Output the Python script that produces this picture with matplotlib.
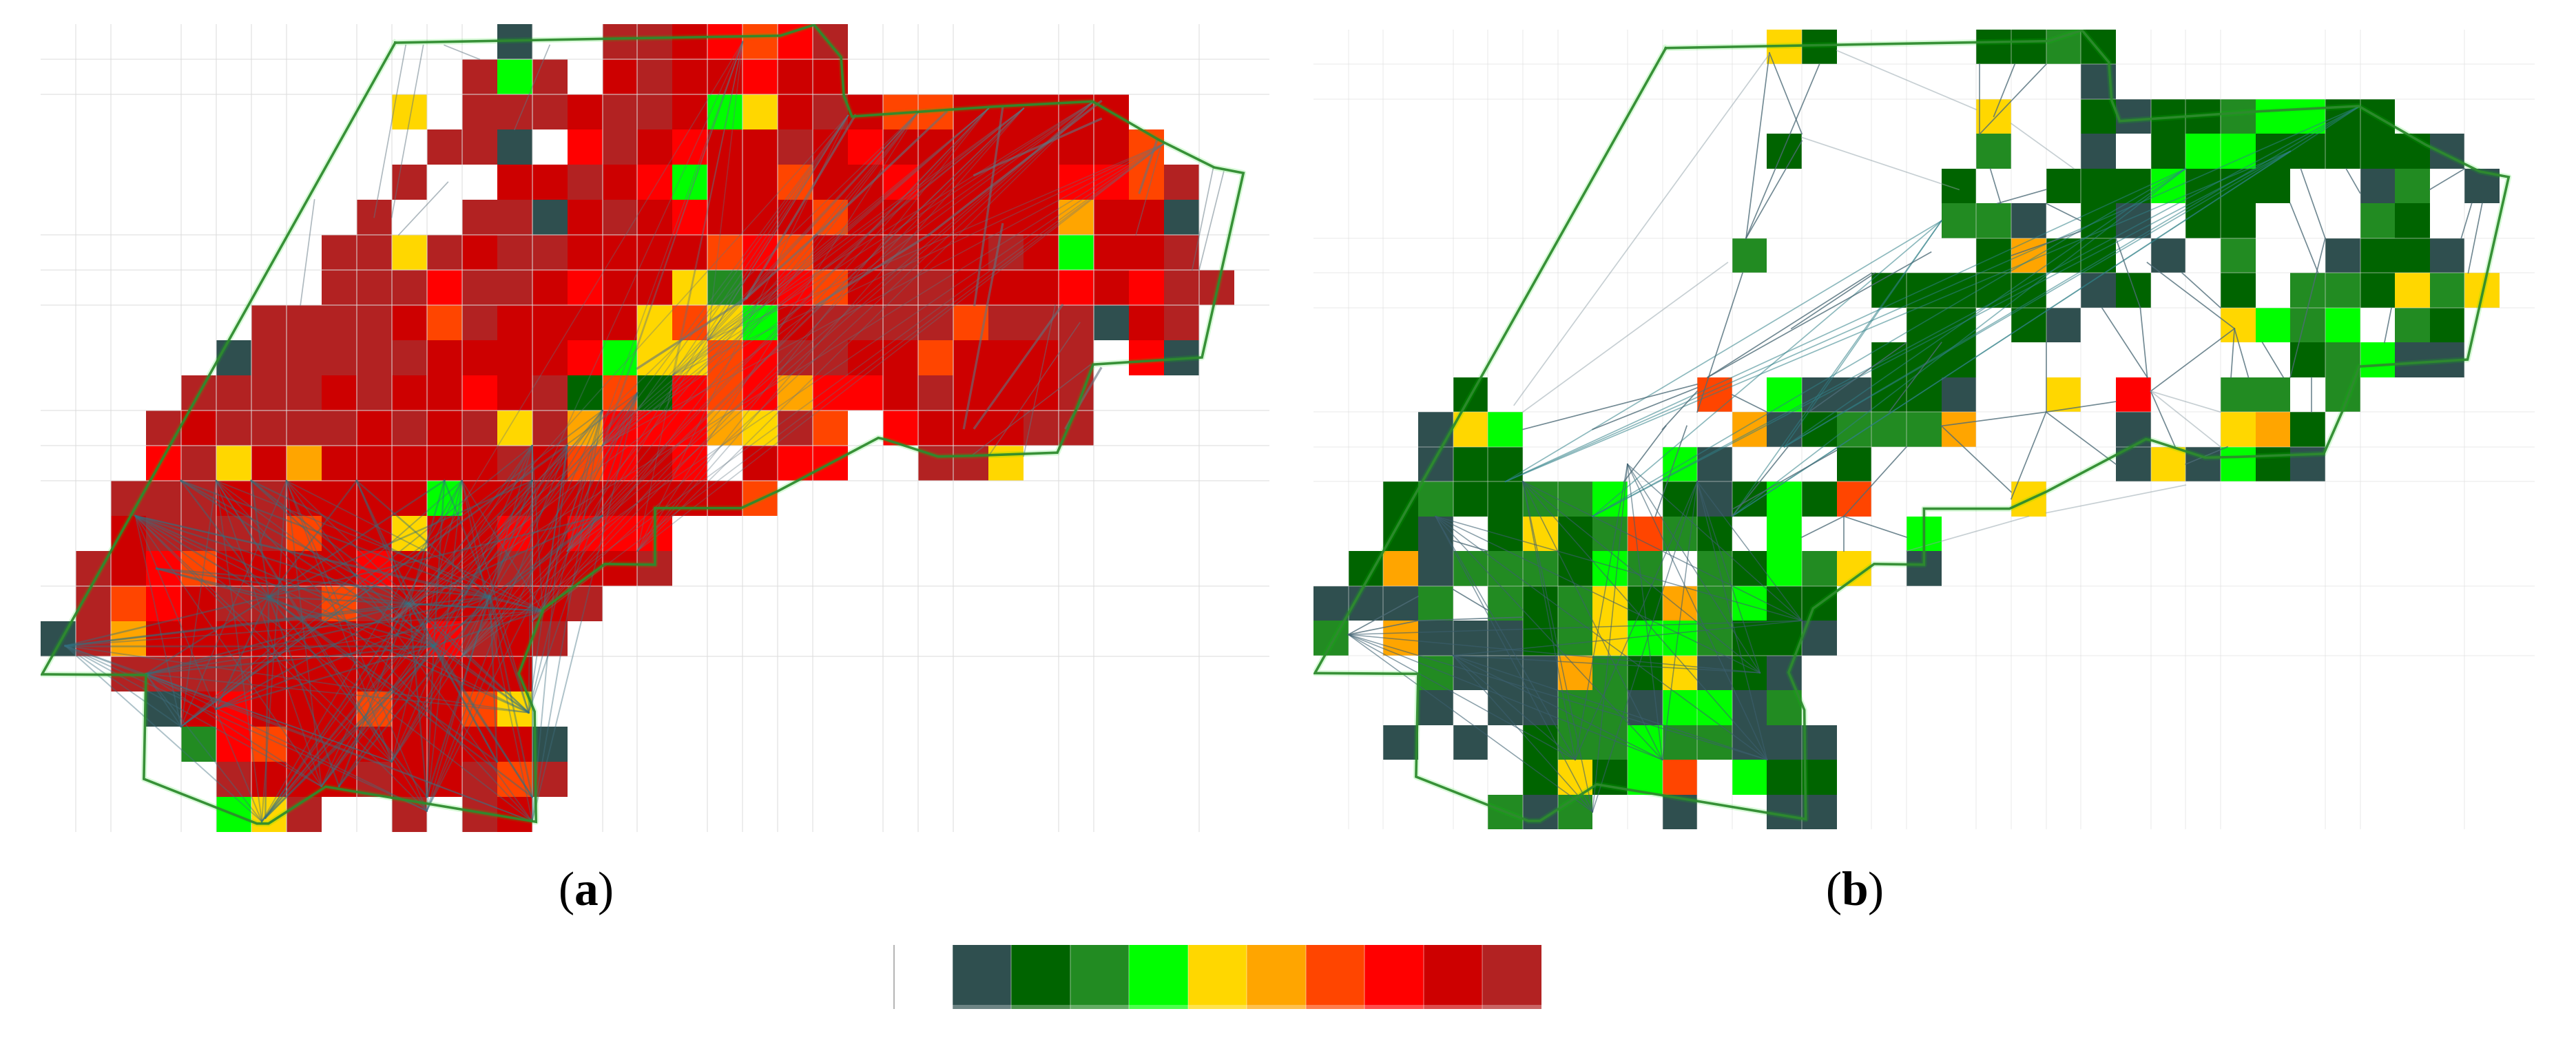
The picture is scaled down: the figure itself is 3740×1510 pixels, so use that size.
## Grid maps (a) and (b) with the site polygon and link network
import itertools
import numpy as np
import matplotlib
matplotlib.use('Agg')
import matplotlib.pyplot as plt
from matplotlib.colors import ListedColormap

plt.rcParams['mathtext.fontset'] = 'custom'
plt.rcParams['mathtext.bf'] = 'Liberation Serif:bold'
plt.rcParams['mathtext.rm'] = 'Liberation Serif'

## Colour classes, 0 is empty
class_colors = ['#FFFFFF', '#2F4F4F', '#006400', '#228B22', '#00FF00', '#FFD700',
                '#FFA500', '#FF4500', '#FF0000', '#CD0000', '#B22222']
legend_classes = [0, 1, 2, 3, 4, 5, 6, 7, 8, 9, 10]

## Cell classes per row, hex digit per column (groups of ten columns)
left_rows = [
    "0000000000 000100AA98 78A0000000 0000",
    "0000000000 00A4A09A99 8990000000 0000",
    "0000000000 50AAA9AA94 59A9779999 9000",
    "0000000000 0AA108A989 9A98999999 9700",
    "0000000000 A0099A9849 9799899998 87A0",
    "000000000A 00AA19A989 9979999996 9910",
    "00000000AA 5A9AA99997 8799A99A94 99A0",
    "00000000AA A8AA989953 9879AA9998 98AA",
    "000000AAAA 97A9999575 49AAAA7AAA 19A0",
    "000001AAAA A999984557 8AA997999A 0810",
    "0000AAAA9A 9989A27287 86889A999A 0000",
    "000A9AAAA9 A9A5A68886 5A708999AA 0000",
    "0008A59699 999A978980 98800AA500 0000",
    "00AAA9A999 9499999999 7000000000 0000",
    "009AAAA799 5998988800 0000000000 0000",
    "0A98799998 999A999A00 0000000000 0000",
    "0A789AAA7A 99999A0000 0000000000 0000",
    "1A69999999 98A9A00000 0000000000 0000",
    "00AAAA9999 9999000000 0000000000 0000",
    "0001989997 9975000000 0000000000 0000",
    "0000387999 9999100000 0000000000 0000",
    "00000A999A 99A7A00000 0000000000 0000",
    "0000045A00 A0A9000000 0000000000 0000",
]

right_rows = [
    "0000000000 0005200002 2320000000 0000",
    "0000000000 0000000000 0010000000 0000",
    "0000000000 0000000005 0021223442 2000",
    "0000000000 0002000003 0010244222 2210",
    "0000000000 0000000020 0222422200 1301",
    "0000000000 0000000033 1021022000 3200",
    "0000000000 0030000002 6220103001 2210",
    "0000000000 0000002222 2012002033 2535",
    "0000000000 0000000220 2100005434 0320",
    "0000000000 0000002220 0000000023 4110",
    "0000200000 0704112210 0508003303 0000",
    "0001540000 0061233360 0001005620 0000",
    "0001220000 4100020000 0001514210 0000",
    "0023223340 2124270000 5000000000 0000",
    "0021025237 3204000400 0000000000 0000",
    "0261333243 0324350100 0000000000 0000",
    "1113032352 6342200000 0000000000 0000",
    "3061112354 4322100000 0000000000 0000",
    "0003111632 5121000000 0000000000 0000",
    "0001011331 4413000000 0000000000 0000",
    "0010102334 3311100000 0000000000 0000",
    "0000002524 7042200000 0000000000 0000",
    "0000031300 1001100000 0000000000 0000",
]

## Outer polygon, in cell units (same for both maps)
poly_x = [10.10, 0.04, 3.00, 2.94, 6.16, 6.49, 8.12, 14.11, 14.07, 13.62, 14.32, 16.07,
          17.50, 17.50, 19.95, 21.01, 23.86, 24.05, 25.56, 26.51, 28.96, 29.51, 29.98,
          33.08, 34.26, 33.43, 31.88, 29.96, 27.13, 23.11, 22.88, 22.80, 22.03, 21.07,
          16.50, 10.10]
poly_y = [0.53, 18.51, 18.53, 21.49, 22.76, 22.76, 21.71, 22.71, 19.57, 18.49, 16.65, 15.37,
          15.39, 13.78, 13.78, 13.29, 11.78, 11.82, 12.31, 12.29, 12.20, 10.94, 9.69,
          9.49, 4.24, 4.08, 3.31, 2.20, 2.35, 2.63, 2.04, 0.94, 0.02, 0.33,
          0.41, 0.53]

## Grid line positions, in cell edges
grid_cols = [1, 2, 4, 5, 6, 7, 9, 10, 11, 12, 14, 16, 17, 19, 20, 21, 22, 24, 25, 26, 29, 30, 33]
grid_rows = [1, 2, 6, 7, 8, 11, 12, 13, 16, 18]

## Link network (a): hubs joined across the map
left_star_a = [(2.7, 14.0), (0.7, 17.7), (3.0, 18.5), (5.0, 13.0), (7.0, 13.0),
               (12.0, 13.0), (15.0, 12.0), (16.0, 11.0), (14.0, 12.0), (17.0, 10.5)]
left_star_b = [(6.3, 22.7), (8.0, 21.7), (11.0, 22.4), (14.0, 22.7), (13.9, 19.6),
               (14.3, 16.7), (10.0, 21.0), (4.0, 20.0)]
left_hubs = [(10.5, 16.5), (11.2, 17.7), (6.5, 16.3), (12.8, 16.3)]
left_ring = [(2.7, 14.0), (0.7, 17.7), (3.0, 18.5), (4.0, 13.0), (6.0, 13.0), (9.0, 13.0), (11.5, 13.0),
             (14.0, 13.0), (16.0, 14.0), (14.3, 16.7), (13.9, 19.6), (14.0, 22.0), (11.0, 22.0),
             (8.5, 21.7), (6.4, 22.6), (5.0, 19.5), (3.3, 15.5), (13.0, 21.0)]
left_band_a = [(14.0, 17.0), (12.0, 18.0), (10.0, 17.0), (15.0, 15.0), (17.0, 15.0),
               (16.0, 12.0), (18.0, 10.0), (19.0, 9.0)]
left_band_b = [(23.0, 2.6), (25.0, 2.5), (27.0, 2.4), (30.0, 2.2), (32.0, 3.4),
               (20.0, 0.5), (28.0, 2.4)]
left_links = [((29.6, 8.5), (27.0, 12.3)), ((29.9, 9.7), (26.5, 12.3)), ((28.9, 8.0), (28.0, 12.3)),
              ((31.9, 3.5), (31.2, 6.0)), ((33.4, 4.1), (32.8, 7.0)), ((33.7, 4.2), (33.0, 7.0)),
              ((10.4, 0.6), (9.5, 5.5)), ((10.9, 0.6), (10.0, 5.5)), ((11.5, 0.6), (12.5, 1.0)),
              ((14.5, 0.6), (13.5, 3.0)), ((11.6, 4.5), (10.2, 6.0)), ((7.8, 5.0), (7.4, 8.0))]
left_heavy_links = [((23.2, 2.6), (20.1, 7.8)), ((20.1, 7.8), (17.0, 9.8)), ((25.8, 2.5), (22.1, 6.0)),
                    ((22.1, 6.0), (20.1, 7.8)), ((27.4, 2.4), (26.6, 8.0)), ((30.2, 2.2), (25.3, 6.0)),
                    ((25.3, 6.0), (22.1, 8.0)), ((31.8, 3.3), (31.3, 4.8)), ((30.2, 2.7), (26.6, 4.3)),
                    ((29.1, 8.0), (26.6, 11.5)), ((30.2, 9.8), (29.2, 11.5)), ((27.4, 5.7), (26.3, 11.5))]

## Link network (b)
right_star_a = [(3.5, 14.0), (1.0, 17.4), (6.0, 13.0), (9.0, 12.5), (11.0, 13.0), (4.0, 18.0)]
right_star_b = [(13.0, 21.0), (12.8, 18.5), (10.0, 21.0), (8.0, 22.5), (7.5, 21.0), (14.0, 17.0)]
right_band_a = [(5.5, 13.0), (8.0, 14.0), (12.0, 14.0), (13.5, 12.0)]
right_band_b = [(18.0, 5.5), (25.0, 4.0), (28.0, 3.5), (30.0, 2.2)]
right_links = [((13.07, 0.67), (12.4, 6.0)), ((14.5, 1.0), (12.4, 6.0)), ((13.07, 0.67), (14.0, 3.0)),
               ((14.0, 3.2), (12.4, 6.0)), ((12.3, 7.0), (11.0, 11.0)), ((16.0, 7.0), (11.3, 10.0)),
               ((17.7, 6.4), (11.3, 10.0)), ((11.0, 10.2), (6.0, 11.5)), ((11.0, 10.3), (8.0, 11.5)),
               ((11.0, 10.4), (10.0, 11.5)), ((12.0, 10.5), (13.0, 11.0)), ((10.1, 11.4), (8.9, 13.0)),
               ((10.7, 11.4), (9.8, 14.0)), ((13.6, 12.0), (12.0, 14.0)), ((15.0, 12.1), (12.0, 13.8)),
               ((15.2, 14.0), (14.0, 14.6)), ((15.2, 14.0), (15.2, 15.0)), ((15.2, 14.0), (17.0, 14.6)),
               ((15.2, 14.0), (17.0, 12.0)), ((1.0, 17.4), (3.0, 17.0)), ((1.0, 17.4), (3.0, 16.3)),
               ((3.0, 17.0), (6.0, 16.9)), ((4.0, 16.1), (5.0, 16.7)), ((4.0, 14.7), (5.0, 15.0)),
               ((19.1, 3.0), (19.1, 1.0)), ((19.5, 2.5), (20.1, 1.0)), ((19.1, 3.0), (21.0, 1.0)),
               ((19.4, 4.0), (19.7, 5.0)), ((21.0, 4.6), (19.6, 5.0)), ((21.0, 5.0), (22.0, 5.5)),
               ((22.0, 5.8), (20.0, 6.5)), ((23.0, 6.0), (23.7, 8.0)), ((23.7, 8.0), (23.9, 10.0)),
               ((22.6, 8.0), (23.9, 10.0)), ((24.9, 7.0), (26.0, 8.0)), ((23.9, 6.7), (26.4, 8.6)),
               ((24.0, 10.4), (26.4, 8.6)), ((21.0, 11.0), (23.0, 10.7)), ((21.0, 11.0), (18.0, 11.4)),
               ((21.0, 11.0), (20.0, 13.5)), ((21.0, 11.0), (23.0, 12.5)), ((21.0, 11.0), (21.0, 9.0)),
               ((18.0, 11.4), (20.0, 13.3)), ((26.4, 8.6), (26.8, 10.0)), ((26.4, 8.6), (26.3, 10.0)),
               ((27.2, 9.0), (27.8, 10.0)), ((25.0, 12.5), (26.2, 12.0)), ((24.0, 10.4), (24.7, 12.0)),
               ((28.0, 5.0), (28.8, 7.0)), ((28.3, 4.0), (29.0, 6.0)), ((29.6, 4.0), (30.0, 4.7)),
               ((32.0, 4.6), (33.0, 4.0)), ((33.2, 5.0), (32.9, 6.0)), ((33.5, 5.0), (33.1, 7.0)),
               ((28.6, 10.0), (28.6, 11.0)), ((30.9, 8.0), (30.7, 9.0)), ((29.0, 6.0), (28.0, 10.0)),
               ((13.7, 8.6), (16.1, 7.0)), ((17.0, 9.0), (14.2, 11.0)), ((18.0, 9.0), (16.5, 11.0))]
right_faint_links = [((15.0, 0.6), (19.0, 2.3)), ((14.0, 3.1), (18.5, 4.6)), ((11.87, 6.7), (6.0, 11.0)),
                     ((13.07, 0.7), (5.75, 10.8)), ((20.0, 2.7), (21.8, 4.0)), ((17.0, 15.0), (20.5, 14.0)),
                     ((24.0, 10.4), (26.0, 11.0)), ((24.0, 10.4), (26.0, 12.0)), ((25.0, 13.1), (21.0, 13.9))]

panel_labels = ['a', 'b']

W, H = 3740, 1510
fig = plt.figure(figsize=(W / 100, H / 100), dpi=100, facecolor='white')
cmap = ListedColormap(class_colors)


def px_axes(x0, y0, x1, y1):
    ax = fig.add_axes([x0 / W, 1 - y1 / H, (x1 - x0) / W, (y1 - y0) / H])
    ax.axis('off')
    return ax


def parse(rows):
    return np.array([[int(c, 16) for c in r.replace(' ', '')] for r in rows])


def draw_links(ax, pairs, color, alpha, lw):
    for a, b in pairs:
        ax.plot([a[0], b[0]], [a[1], b[1]], color=color, alpha=alpha, lw=lw, zorder=3)


def draw_map(ax, rows, grid_alpha):
    grid = parse(rows)
    ax.pcolormesh(np.arange(35), np.arange(24), grid, cmap=cmap, vmin=-0.5, vmax=10.5,
                  antialiased=False, zorder=1)
    ax.vlines(grid_cols, 0, 23, color='#dcdcdc', alpha=grid_alpha, lw=1.1, zorder=2)
    ax.hlines(grid_rows, 0, 35, color='#dcdcdc', alpha=grid_alpha, lw=1.1, zorder=2)
    ax.set_xlim(0, 35)
    ax.set_ylim(23, 0)


def draw_outline(ax):
    ax.plot(poly_x, poly_y, color='#00E000', alpha=0.15, lw=6, zorder=4)
    ax.plot(poly_x, poly_y, color='#2E8B2E', alpha=0.95, lw=2.6, zorder=5, solid_joinstyle='miter')


## (a)
ax_a = px_axes(59, 35, 59 + 35 * 50.97, 1208)
draw_map(ax_a, left_rows, 0.65)
draw_links(ax_a, itertools.product(left_star_a, left_star_b), '#3F6F80', 0.42, 1.4)
draw_links(ax_a, itertools.product(left_hubs, left_ring), '#2F7080', 0.45, 1.8)
draw_links(ax_a, itertools.product(left_band_a, left_band_b), '#5F7480', 0.36, 1.2)
draw_links(ax_a, left_links, '#5F7480', 0.5, 1.2)
draw_links(ax_a, left_heavy_links, '#5F7480', 0.6, 2.4)
draw_outline(ax_a)

## (b)
ax_b = px_axes(1907, 43, 1907 + 35 * 50.65, 1204)
draw_map(ax_b, right_rows, 0.4)
draw_links(ax_b, itertools.product(right_star_a, right_star_b), '#3C6070', 0.6, 1.1)
draw_links(ax_b, itertools.product(right_band_a, right_band_b), '#2F8088', 0.55, 1.2)
draw_links(ax_b, right_links, '#4E6C78', 0.8, 1.2)
draw_links(ax_b, right_faint_links, '#8FA0A8', 0.5, 1.2)
draw_outline(ax_b)

## Colour key
ax_k = px_axes(1297, 1372, 2238, 1465)
ax_k.pcolormesh(np.arange(12), [0, 1], np.array([legend_classes]), cmap=cmap, vmin=-0.5, vmax=10.5,
                antialiased=False)
ax_k.vlines(np.arange(1, 11), 0, 1, color='white', alpha=0.3, lw=1.2)
ax_k.axhspan(0, 0.06, color='white', alpha=0.3, lw=0)
ax_k.axvline(0.012, color='#b5b5b5', lw=1.5)
ax_k.set_xlim(0, 11)
ax_k.set_ylim(0, 1)

## Panel labels
for name, xc in zip(panel_labels, [850, 2692]):
    fig.text(xc / W, 1 - 1297 / H, '(' + r'$\mathbf{%s}$' % name + ')', ha='center', va='center',
             fontsize=50, family='Liberation Serif', color='black')

fig.savefig('out.png', dpi=100, facecolor='white')
